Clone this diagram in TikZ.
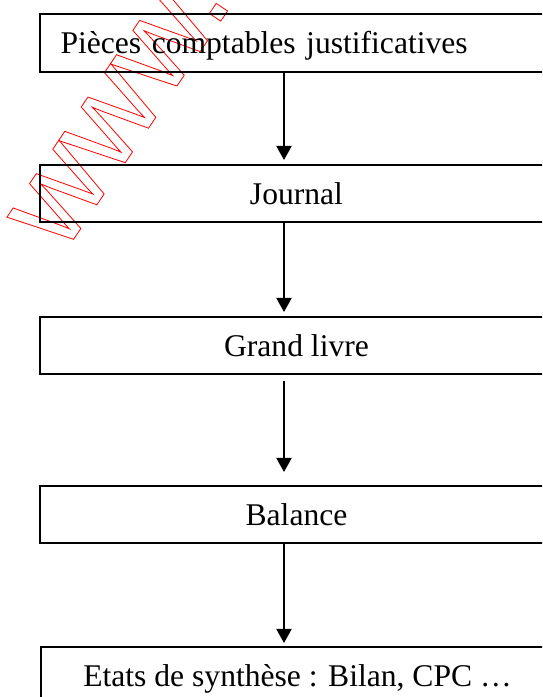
\documentclass[tikz,border=0pt]{standalone}
\usepackage{fontspec}
\setmainfont{Liberation Serif}
\newfontfamily\wmfont{Liberation Sans}
\usetikzlibrary{arrows.meta,calc}
\begin{document}
\begin{tikzpicture}[x=1pt,y=1pt,
  box/.style={draw=black, line width=2pt, minimum width=513pt, minimum height=57.5pt,
    inner xsep=0pt, inner ysep=0pt, text height=21pt, text depth=0pt, anchor=north west,
    font=\fontsize{31.6}{38}\selectfont},
  arr/.style={line width=2pt, -{Triangle[width=15pt,length=14pt]}},
  wmark/.style={red, rotate=56, anchor=base west, inner sep=0pt,
    font=\wmfont\fontsize{128}{128}\selectfont}]
\useasboundingbox (0,0) rectangle (542,697);
\clip (0,0) rectangle (542,697);
\fill[white] (0,0) rectangle (542,697);
% watermark (outlined text)
\node[wmark] (wm) at (63,442) {\special{pdf:literal direct 1 Tr 0.8 w}www.\special{pdf:literal direct 0 Tr}};
% boxes
\node[box, align=left, text width=472pt, inner xsep=20.5pt] (b1) at (39,683.5) {Pièces comptables justificatives};
\node[box] (b2) at (39,533) {Journal};
\node[box] (b3) at (39,381) {Grand livre};
\node[box] (b4) at (39,212) {Balance};
\node[box] (b5) at (40,51) {Etats de synthèse : Bilan, CPC …};
% arrows
\coordinate (ax) at (284,0);
\draw[arr] (b1.south -| ax) -- ($(b2.north -| ax)+(0,4)$);
\draw[arr] (b2.south -| ax) -- ($(b3.north -| ax)+(0,4)$);
\draw[arr] ($(b3.south -| ax)+(0,-5.5)$) -- ($(b4.north -| ax)+(0,13)$);
\draw[arr] (b4.south -| ax) -- ($(b5.north -| ax)+(0,3)$);
\end{tikzpicture}
\end{document}
